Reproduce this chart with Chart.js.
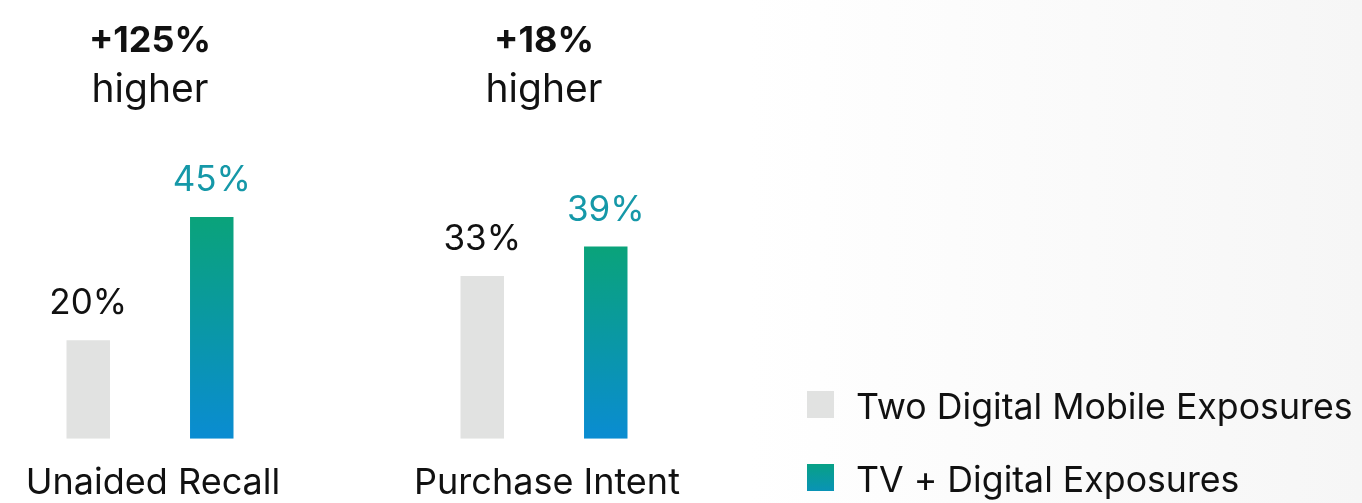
<!DOCTYPE html>
<html>
<head>
<meta charset="utf-8">
<script src="https://cdn.jsdelivr.net/npm/chart.js@4.4.1/dist/chart.umd.min.js"></script>
<style>
  html, body { margin: 0; padding: 0; width: 1362px; height: 503px; overflow: hidden; }
  body { background: linear-gradient(90deg, #ffffff 0%, #ffffff 55%, #f6f6f6 100%); }
  #wrap { position: absolute; left: -47px; top: 0; width: 1409px; height: 531px; }
</style>
</head>
<body>
<div id="wrap"><canvas id="liftChart"></canvas></div>
<script>
// Lift study: two exposure groups
var categories = ['Unaided Recall', 'Purchase Intent'];
var liftValues = ['+125%', '+18%'];
var liftWord = 'higher';
var seriesNames = ['Two Digital Mobile Exposures', 'TV + Digital Exposures'];
var digitalOnly = [20, 33];
var tvDigital = [45, 39];

var FONT = 'Inter, "Noto Sans", sans-serif';
var GREY = '#e1e2e1';
var TEAL_TEXT = '#1598a8';

function barGradient(ctx) {
  var chart = ctx.chart;
  var y = chart.scales.y;
  if (!chart.chartArea || !y || ctx.raw == null) return '#0a98a8';
  var top = y.getPixelForValue(ctx.raw);
  var bottom = y.getPixelForValue(0);
  var g = chart.ctx.createLinearGradient(0, top, 0, bottom);
  g.addColorStop(0, '#0aa37a');
  g.addColorStop(1, '#0a8cd2');
  return g;
}

// titles above each group, value labels above bars, legend at bottom right
var labelsPlugin = {
  id: 'liftLabels',
  afterDatasetsDraw: function(chart) {
    var c = chart.ctx;
    var x = chart.scales.x;
    c.save();
    c.textAlign = 'center';
    c.textBaseline = 'alphabetic';
    c.fillStyle = '#111111';
    categories.forEach(function(cat, i) {
      var px = x.getPixelForValue(i);
      c.font = 'bold 36px ' + FONT;
      c.fillText(liftValues[i], px, 52);
      c.font = '39px ' + FONT;
      c.fillText(liftWord, px, 102);
    });

    c.font = '35px ' + FONT;
    chart.data.datasets.forEach(function(ds, di) {
      chart.getDatasetMeta(di).data.forEach(function(bar, i) {
        c.fillStyle = di === 0 ? '#111111' : TEAL_TEXT;
        c.fillText(ds.data[i] + '%', bar.x, bar.y - 26);
      });
    });

    // legend
    var lx = 854, ly = [391, 464];
    c.textAlign = 'left';
    c.font = '35.7px ' + FONT;
    chart.data.datasets.forEach(function(ds, di) {
      var top = ly[di];
      if (di === 0) {
        c.fillStyle = GREY;
      } else {
        var g = c.createLinearGradient(0, top, 0, top + 27);
        g.addColorStop(0, '#08a186');
        g.addColorStop(1, '#0993b6');
        c.fillStyle = g;
      }
      c.fillRect(lx, top, 27, 27);
      c.fillStyle = '#111111';
      c.fillText(ds.label, lx + 49, top + 28);
    });
    c.restore();
  }
};

new Chart(document.getElementById('liftChart').getContext('2d'), {
  type: 'bar',
  data: {
    labels: categories,
    datasets: [
      { label: seriesNames[0], data: digitalOnly, backgroundColor: GREY },
      { label: seriesNames[1], data: tvDigital, backgroundColor: barGradient }
    ]
  },
  options: {
    responsive: true,
    maintainAspectRatio: false,
    animation: false,
    layout: { padding: { left: 0, right: 621, top: 143, bottom: 3 } },
    datasets: { bar: { categoryPercentage: 0.627, barPercentage: 0.352 } },
    plugins: { legend: { display: false }, tooltip: { enabled: false } },
    scales: {
      x: {
        grid: { display: false, drawTicks: false },
        border: { display: false },
        ticks: { color: '#111111', padding: 23, labelOffset: 3, font: { family: FONT, size: 36 } }
      },
      y: {
        display: false,
        min: 0,
        max: 60
      }
    }
  },
  plugins: [labelsPlugin]
});
</script>
</body>
</html>
